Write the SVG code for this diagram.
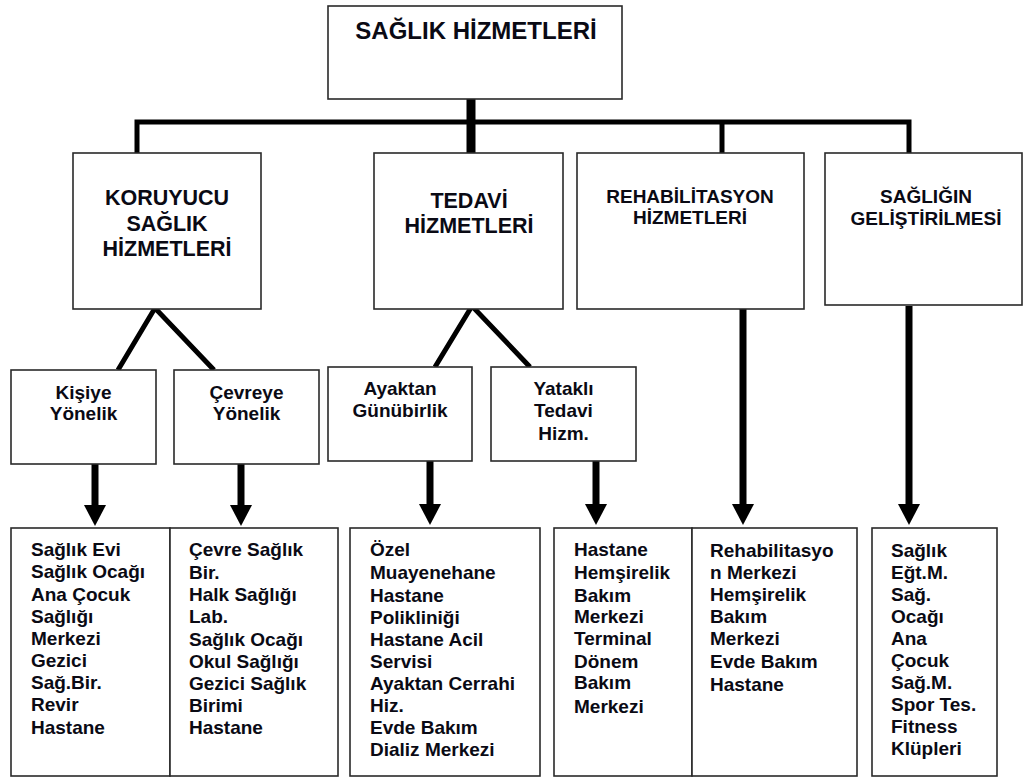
<svg xmlns="http://www.w3.org/2000/svg" width="1027" height="778" viewBox="0 0 1027 778">
<style>
.box{fill:#fff;stroke:#2a2a2a;stroke-width:1.6}
text{font-family:"Liberation Sans",Arial,sans-serif;font-weight:bold;fill:#0a0a14}
.t1{font-size:24px;text-anchor:middle}
.t2{font-size:21.5px;text-anchor:middle}
.t3{font-size:19px;text-anchor:middle}
.t4{font-size:19px}
.bus{stroke:#000;stroke-width:5;fill:none}
.trunk{stroke:#000;stroke-width:9;fill:none}
.vee{stroke:#000;stroke-width:5;fill:none;stroke-linejoin:miter}
.arr{stroke:#000;stroke-width:7;fill:none;marker-end:url(#ah)}
</style>
<defs>
<marker id="ah" viewBox="0 -11 21 22" refX="0" refY="0" markerWidth="21" markerHeight="22" markerUnits="userSpaceOnUse" orient="auto">
<path d="M0,-11 L21,0 L0,11 z" fill="#000"/>
</marker>
</defs>
<rect width="1027" height="778" fill="#fff"/>
<g id="connectors">
<line class="trunk" x1="471" y1="90" x2="471" y2="153"/>
<path class="bus" d="M137,153 V122 H909 V153"/>
<line class="bus" x1="471" y1="122" x2="471" y2="153"/>
<line class="bus" x1="722" y1="122" x2="722" y2="153"/>
<path class="vee" d="M118,370 L155,308 L214,370"/>
<path class="vee" d="M435,367 L472,306 L530,367"/>
<line class="arr" x1="95" y1="464" x2="95" y2="505"/>
<line class="arr" x1="241" y1="464" x2="241" y2="505"/>
<line class="arr" x1="430" y1="461" x2="430" y2="504"/>
<line class="arr" x1="596" y1="461" x2="596" y2="504"/>
<line class="arr" x1="743" y1="308" x2="743" y2="504"/>
<line class="arr" x1="909" y1="306" x2="909" y2="504"/>
</g>
<g id="n-root">
<rect class="box" x="328" y="6" width="294" height="93"/>
<text class="t1" x="476" y="39">SAĞLIK HİZMETLERİ</text>
</g>
<g id="n-koruyucu">
<rect class="box" x="73" y="153" width="188" height="156"/>
<text class="t2" x="167" y="205">KORUYUCU</text>
<text class="t2" x="167" y="231">SAĞLIK</text>
<text class="t2" x="167" y="256">HİZMETLERİ</text>
</g>
<g id="n-tedavi">
<rect class="box" x="374" y="153" width="189" height="156"/>
<text class="t2" x="469" y="208">TEDAVİ</text>
<text class="t2" x="469" y="233">HİZMETLERİ</text>
</g>
<g id="n-rehab">
<rect class="box" x="577" y="153" width="227" height="156"/>
<text class="t3" x="690" y="203">REHABİLİTASYON</text>
<text class="t3" x="690" y="224">HİZMETLERİ</text>
</g>
<g id="n-gelistirme">
<rect class="box" x="825" y="153" width="197" height="152"/>
<text class="t3" x="926" y="203">SAĞLIĞIN</text>
<text class="t3" x="926" y="225">GELİŞTİRİLMESİ</text>
</g>
<g id="n-kisiye">
<rect class="box" x="11" y="370" width="145" height="94"/>
<text class="t3" x="83.5" y="399">Kişiye</text>
<text class="t3" x="83.5" y="420">Yönelik</text>
</g>
<g id="n-cevreye">
<rect class="box" x="174" y="370" width="145" height="94"/>
<text class="t3" x="246.5" y="399">Çevreye</text>
<text class="t3" x="246.5" y="420">Yönelik</text>
</g>
<g id="n-ayaktan">
<rect class="box" x="328" y="367" width="144" height="94"/>
<text class="t3" x="400" y="395">Ayaktan</text>
<text class="t3" x="400" y="417">Günübirlik</text>
</g>
<g id="n-yatakli">
<rect class="box" x="491" y="367" width="145" height="94"/>
<text class="t3" x="563.5" y="395">Yataklı</text>
<text class="t3" x="563.5" y="417">Tedavi</text>
<text class="t3" x="563.5" y="440">Hizm.</text>
</g>
<g id="n-kisiye-list">
<rect class="box" x="11" y="528" width="159" height="248"/>
<text class="t4" x="31" y="556">Sağlık Evi</text>
<text class="t4" x="31" y="578">Sağlık Ocağı</text>
<text class="t4" x="31" y="600.5">Ana Çocuk</text>
<text class="t4" x="31" y="622.5">Sağlığı</text>
<text class="t4" x="31" y="644.5">Merkezi</text>
<text class="t4" x="31" y="667">Gezici</text>
<text class="t4" x="31" y="689">Sağ.Bir.</text>
<text class="t4" x="31" y="711">Revir</text>
<text class="t4" x="31" y="734">Hastane</text>
</g>
<g id="n-cevreye-list">
<rect class="box" x="170" y="528" width="168" height="248"/>
<text class="t4" x="189" y="556">Çevre Sağlık</text>
<text class="t4" x="189" y="578.5">Bir.</text>
<text class="t4" x="189" y="601">Halk Sağlığı</text>
<text class="t4" x="189" y="623">Lab.</text>
<text class="t4" x="189" y="645.5">Sağlık Ocağı</text>
<text class="t4" x="189" y="668">Okul Sağlığı</text>
<text class="t4" x="189" y="690">Gezici Sağlık</text>
<text class="t4" x="189" y="712">Birimi</text>
<text class="t4" x="189" y="734">Hastane</text>
</g>
<g id="n-ayaktan-list">
<rect class="box" x="350" y="528" width="190" height="248"/>
<text class="t4" x="370" y="556">Özel</text>
<text class="t4" x="370" y="579">Muayenehane</text>
<text class="t4" x="370" y="601.5">Hastane</text>
<text class="t4" x="370" y="623.5">Polikliniği</text>
<text class="t4" x="370" y="645.5">Hastane Acil</text>
<text class="t4" x="370" y="667.5">Servisi</text>
<text class="t4" x="370" y="690">Ayaktan Cerrahi</text>
<text class="t4" x="370" y="712">Hiz.</text>
<text class="t4" x="370" y="734">Evde Bakım</text>
<text class="t4" x="370" y="756">Dializ Merkezi</text>
</g>
<g id="n-yatakli-list">
<rect class="box" x="554" y="528" width="138" height="248"/>
<text class="t4" x="574" y="556">Hastane</text>
<text class="t4" x="574" y="579">Hemşirelik</text>
<text class="t4" x="574" y="601.5">Bakım</text>
<text class="t4" x="574" y="623">Merkezi</text>
<text class="t4" x="574" y="645">Terminal</text>
<text class="t4" x="574" y="667.5">Dönem</text>
<text class="t4" x="574" y="689">Bakım</text>
<text class="t4" x="574" y="712.5">Merkezi</text>
</g>
<g id="n-rehab-list">
<rect class="box" x="692" y="528" width="165" height="248"/>
<text class="t4" x="710" y="556.5">Rehabilitasyo</text>
<text class="t4" x="710" y="578.5">n Merkezi</text>
<text class="t4" x="710" y="600.5">Hemşirelik</text>
<text class="t4" x="710" y="622.5">Bakım</text>
<text class="t4" x="710" y="645">Merkezi</text>
<text class="t4" x="710" y="667.5">Evde Bakım</text>
<text class="t4" x="710" y="690.5">Hastane</text>
</g>
<g id="n-gelistirme-list">
<rect class="box" x="872" y="528" width="125" height="248"/>
<text class="t4" x="891" y="556.5">Sağlık</text>
<text class="t4" x="891" y="578.5">Eğt.M.</text>
<text class="t4" x="891" y="600.5">Sağ.</text>
<text class="t4" x="891" y="622.5">Ocağı</text>
<text class="t4" x="891" y="645">Ana</text>
<text class="t4" x="891" y="667">Çocuk</text>
<text class="t4" x="891" y="689">Sağ.M.</text>
<text class="t4" x="891" y="711">Spor Tes.</text>
<text class="t4" x="891" y="733">Fitness</text>
<text class="t4" x="891" y="755">Klüpleri</text>
</g>
</svg>
